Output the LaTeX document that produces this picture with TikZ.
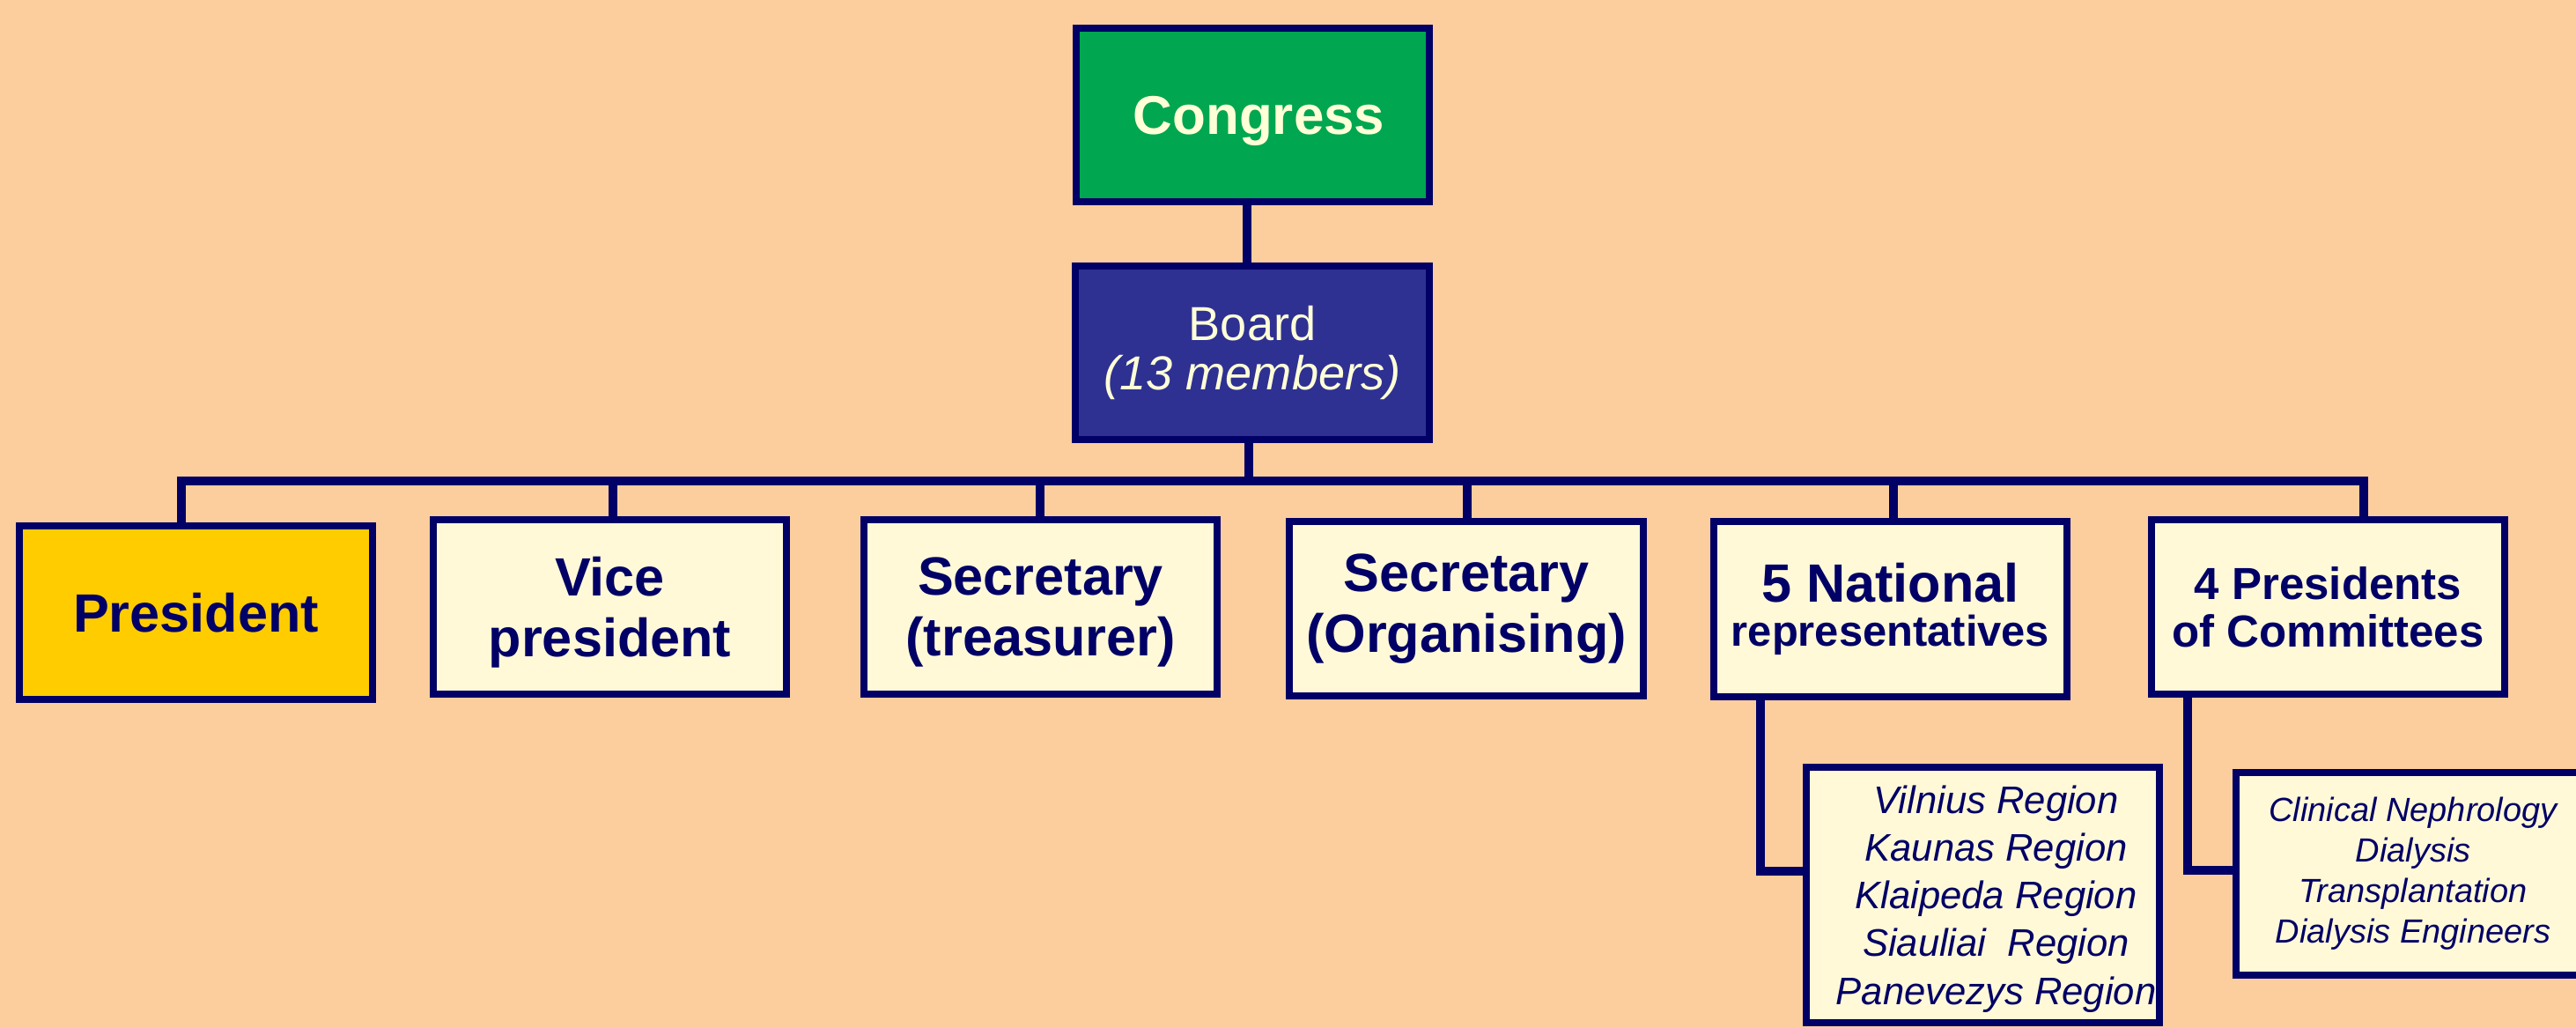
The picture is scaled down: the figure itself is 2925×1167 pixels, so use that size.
\documentclass[tikz,border=0pt]{standalone}
\usepackage{fontspec}
\setmainfont{Liberation Sans}
\definecolor{bgpeach}{HTML}{FDCE9D}
\definecolor{navy}{HTML}{000066}
\definecolor{creamfill}{HTML}{FFF9D7}
\definecolor{creamtext}{HTML}{FFFFD7}
\definecolor{congressgreen}{HTML}{00A650}
\definecolor{boardblue}{HTML}{2E3192}
\definecolor{presyellow}{HTML}{FFCC00}
\begin{document}
\begin{tikzpicture}[x=0.01cm,y=-0.01cm,
  orgbox/.style={draw=navy,line width=2.28pt,inner sep=0pt,align=center,
    minimum width=4.01cm,minimum height=1.98cm,fill=creamfill,text=navy},
  bigbold/.style={font=\fontsize{17.4}{19.6}\selectfont\bfseries},
  conn/.style={draw=navy,line width=2.85pt,line join=miter}]
\fill[bgpeach] (0,0) rectangle (2925,1167);
\useasboundingbox (0,0) rectangle (2925,1167);

% junction coordinates
\coordinate (j1) at (206,546);
\coordinate (j2) at (696,546);
\coordinate (j3) at (1181,546);
\coordinate (jb) at (1418,546);
\coordinate (j4) at (1666,546);
\coordinate (j5) at (2150,546);
\coordinate (j6) at (2684,546);
\coordinate (r1) at (1999,989);
\coordinate (c1) at (2484,988);

% nodes
\node[orgbox,fill=congressgreen,text=creamtext,minimum height=1.97cm,text depth=0pt,
  font=\fontsize{17.6}{20}\selectfont\bfseries] (congress) at (1422.5,130.5) {\hspace*{0.14cm}Congress};
\node[orgbox,fill=boardblue,text=creamtext,minimum width=4.02cm,minimum height=1.97cm,
  font=\fontsize{15.4}{16}\selectfont] (board) at (1422,400.5) {Board\\\itshape (13 members)};
\node[orgbox,fill=presyellow,bigbold,minimum height=1.97cm] (pres) at (222.5,695.5) {President};
\node[orgbox,bigbold,text depth=0pt] (vice) at (692.5,689) {Vice\\president};
\node[orgbox,bigbold,text depth=0pt] (treas) at (1181.5,689) {Secretary\\(treasurer)};
\node[orgbox,bigbold,minimum width=4.02cm] (organ) at (1665,691) {Secretary\\(Organising)};
\node[orgbox,minimum height=1.99cm,font=\fontsize{17.4}{14.3}\selectfont\bfseries] (natl) at (2146.5,691.5)
  {5 National\\\fontsize{13.9}{14.3}\selectfont representatives};
\node[orgbox,font=\fontsize{14.5}{15.4}\selectfont\bfseries] (comm) at (2643.5,689)
  {4 Presidents\\of Committees};
\node[orgbox,minimum height=2.90cm,text depth=0pt,font=\fontsize{12.4}{15.4}\selectfont\itshape] (regions) at (2251.5,1016)
  {\hspace*{0.3cm}Vilnius Region\\\hspace*{0.3cm}Kaunas Region\\\hspace*{0.3cm}Klaipeda Region\\\hspace*{0.3cm}Siauliai\ \ Region\\\hspace*{0.3cm}Panevezys Region};
\node[orgbox,minimum width=4.02cm,minimum height=2.30cm,font=\fontsize{10.8}{13.1}\selectfont\itshape] (committees) at (2740,992)
  {Clinical Nephrology\\Dialysis\\Transplantation\\Dialysis Engineers};

% connectors
\draw[conn] (congress.south -| 1416,0) -- (board.north -| 1416,0);
\draw[conn] (board.south -| jb) -- (jb);
\draw[conn] (pres.north -| j1) -- (j1) -- (j6) -- (comm.north -| j6);
\draw[conn] (j2) -- (vice.north -| j2);
\draw[conn] (j3) -- (treas.north -| j3);
\draw[conn] (j4) -- (organ.north -| j4);
\draw[conn] (j5) -- (natl.north -| j5);
\draw[conn] (natl.south -| r1) -- (r1) -- (regions.west |- r1);
\draw[conn] (comm.south -| c1) -- (c1) -- (committees.west |- c1);
\end{tikzpicture}
\end{document}
